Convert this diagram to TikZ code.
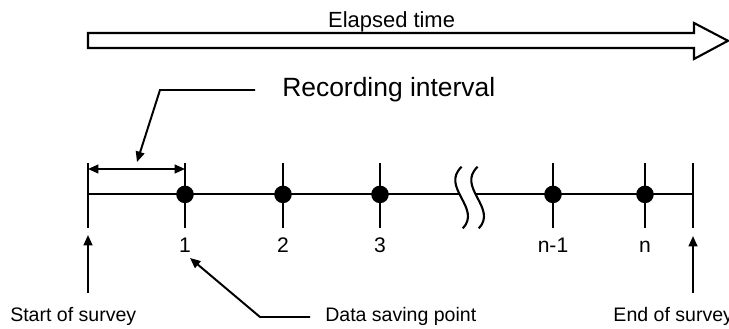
\documentclass[tikz,border=0pt]{standalone}
\usepackage{fontspec}
\setmainfont{Liberation Sans}
\usepackage{tikz}
\usetikzlibrary{arrows.meta, positioning, calc}
\tikzset{
	axis/.style     ={line width=1.3pt},
	bar/.style      ={line width=1.6pt},
	dot/.style      ={circle, fill=black, minimum size=0.44cm, inner sep=0pt},
	ptr/.style      ={-{Triangle[length=2.6mm, width=2.2mm]}, line width=1.4pt},
	dimarrow/.style ={{Triangle[length=2.6mm, width=2.2mm]}-{Triangle[length=2.6mm, width=2.2mm]}, line width=1.3pt},
	brk/.style      ={line width=1.5pt},
	lbl/.style      ={anchor=base, inner sep=0pt, font=\fontsize{15}{18}\selectfont},
	note/.style     ={anchor=base west, inner sep=0pt, font=\fontsize{13.9}{16}\selectfont},
}
\begin{document}
\begin{tikzpicture}
	\useasboundingbox (0,0) rectangle (18.225,8.2);
	% elapsed time
	\draw[line width=1.5pt, line join=miter] (2.2,7.375) -- (17.35,7.375) -- (17.35,7.625) -- (18.2,7.18) -- (17.35,6.725) -- (17.35,7.0) -- (2.2,7.0) -- cycle;
	\node[anchor=base, inner sep=0pt, font=\fontsize{15.6}{18}\selectfont] (elapsed) at (9.79,7.52) {Elapsed time};
	% time line
	\coordinate (start) at (2.2,3.34);
	\coordinate (finish) at (17.325,3.34);
	\coordinate (brkL) at (11.48,3.34);
	\coordinate (brkR) at (11.88,3.34);
	\draw[axis] (start) -- (brkL);
	\draw[axis] (brkR) -- (finish);
	\draw[brk] (11.54,4.03) .. controls (11.0,3.52) and (12.05,3.0) .. (11.57,2.49);
	\draw[brk] (11.94,4.03) .. controls (11.4,3.52) and (12.45,3.0) .. (11.97,2.49);
	\draw[bar] ([yshift=0.79cm]start) -- ([yshift=-0.85cm]start);
	\draw[bar] ([yshift=0.79cm]finish) -- ([yshift=-0.85cm]finish);
	% data saving points
	\foreach \name/\x/\txt in {p1/4.625/1, p2/7.075/2, p3/9.5/3, pm/13.825/n-1, pn/16.125/n} {
		\coordinate (\name) at (\x,3.34);
		\draw[bar] ([yshift=0.79cm]\name) -- ([yshift=-0.85cm]\name);
		\node[dot] (d\name) at (\name) {};
		\node[lbl] (l\name) at (\x,1.89) {\txt};
	}
	% recording interval
	\draw[dimarrow] ([yshift=0.635cm]start) -- ([yshift=0.635cm]p1);
	\node[anchor=base west, inner sep=0pt, font=\fontsize{18.8}{22}\selectfont] (recint) at (7.05,5.78) {Recording interval};
	\coordinate (ri0) at (6.375,5.95);
	\coordinate (ri1) at (4.0,5.95);
	\coordinate (ri2) at (3.425,4.15);
	\draw[ptr] (ri0) -- (ri1) -- (ri2);
	% notes below
	\node[note] (sos) at (0.25,0.16) {Start of survey};
	\node[note] (dsp) at (8.125,0.16) {Data saving point};
	\node[note] (eos) at (15.33,0.16) {End of survey};
	\coordinate (sa0) at (2.2,0.875);
	\coordinate (sa1) at (2.2,2.325);
	\coordinate (ea0) at (17.325,0.875);
	\coordinate (ea1) at (17.325,2.3);
	\draw[ptr] (sa0) -- (sa1);
	\draw[ptr] (ea0) -- (ea1);
	\coordinate (ds0) at (7.75,0.275);
	\coordinate (ds1) at (6.5,0.275);
	\coordinate (ds2) at (4.75,1.75);
	\draw[ptr] (ds0) -- (ds1) -- (ds2);
\end{tikzpicture}
\end{document}
